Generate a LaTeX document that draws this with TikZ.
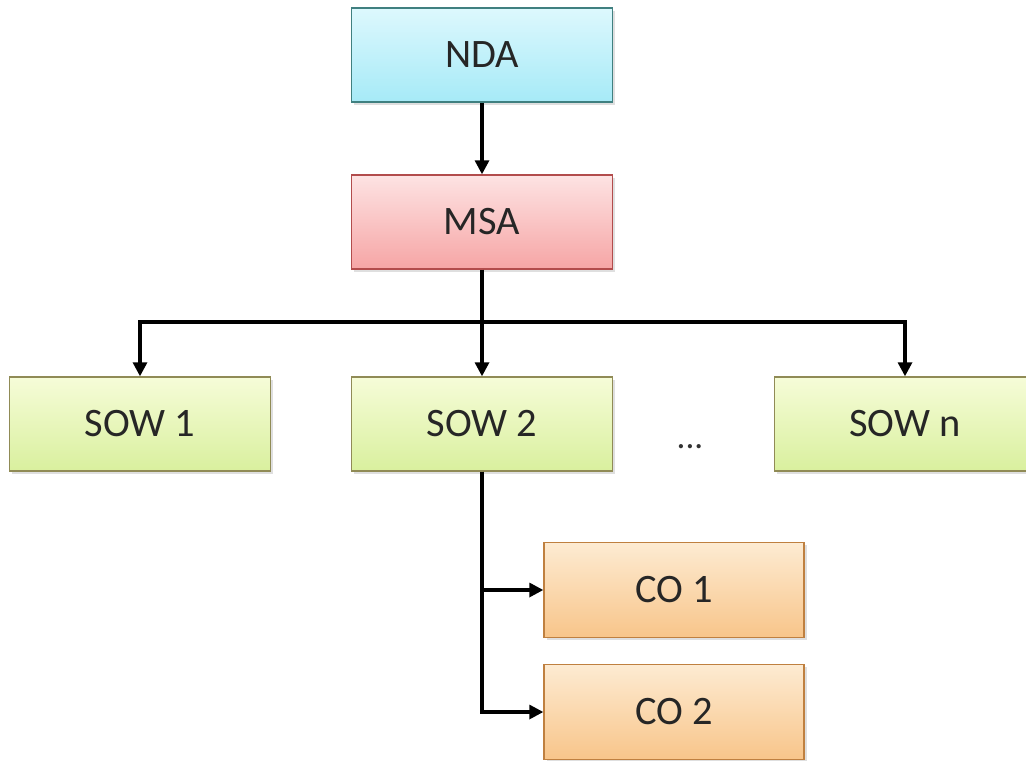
\documentclass[tikz,border=0pt]{standalone}
\usepackage{fontspec}
\setmainfont{Carlito}
\usetikzlibrary{arrows.meta,shadows}
\definecolor{ndatop}{HTML}{DDF8FD}
\definecolor{ndabot}{HTML}{A6EAF7}
\definecolor{msatop}{HTML}{FDE3E3}
\definecolor{msabot}{HTML}{F6A5A5}
\definecolor{sowtop}{HTML}{F6FCD8}
\definecolor{sowbot}{HTML}{D9F09E}
\definecolor{cotop}{HTML}{FDEBD2}
\definecolor{cobot}{HTML}{F8C58A}
\tikzset{box/.style={rectangle,minimum width=5.22cm,minimum height=1.88cm,font=\fontsize{23}{27}\selectfont,text=black!85,line width=0.8pt,drop shadow={opacity=0.25,shadow xshift=1.5pt,shadow yshift=-1.5pt}}}

\begin{document}
\begin{tikzpicture}[x=0.02cm,y=-0.02cm,
    link/.style={line width=1.8pt,-{Triangle[length=8pt,width=8pt]}},
    nda/.style={box,draw=teal!50!gray,top color=ndatop,bottom color=ndabot},
    msa/.style={box,draw=red!40!gray,top color=msatop,bottom color=msabot},
    sow/.style={box,draw=olive!40!gray,top color=sowtop,bottom color=sowbot},
    co/.style={box,minimum width=5.2cm,minimum height=1.9cm,draw=orange!50!gray,top color=cotop,bottom color=cobot}]
                \useasboundingbox (0,0) rectangle (1026,760);
                \clip (0,0) rectangle (1026,760);
                \node [nda] (nda) at (482,55) {NDA};
                \node [msa] (msa) at (482,222) {MSA};
                \node [sow] (sow1) at (140,424) {SOW 1};
                \node [sow] (sow2) at (482,424) {SOW 2};
                \node [sow] (sown) at (905,424) {SOW n};
                \node [text=black!80] (dots) at (690,447) {\fontsize{20}{24}\selectfont ...};
                \node [co] (co1) at (674,590) {CO 1};
                \node [co] (co2) at (674,712) {CO 2};
                \coordinate (bus) at (482,322);
                \draw [link] (nda) -- (msa);
                \draw [line width=1.8pt] (msa) -- (bus);
                \draw [link] (bus) -| (sow1);
                \draw [link] (bus) -- (sow2);
                \draw [link] (bus) -| (sown);
                \draw [link] (sow2.south) |- (co1);
                \draw [link] (sow2.south) |- (co2);
            \end{tikzpicture}
\end{document}
